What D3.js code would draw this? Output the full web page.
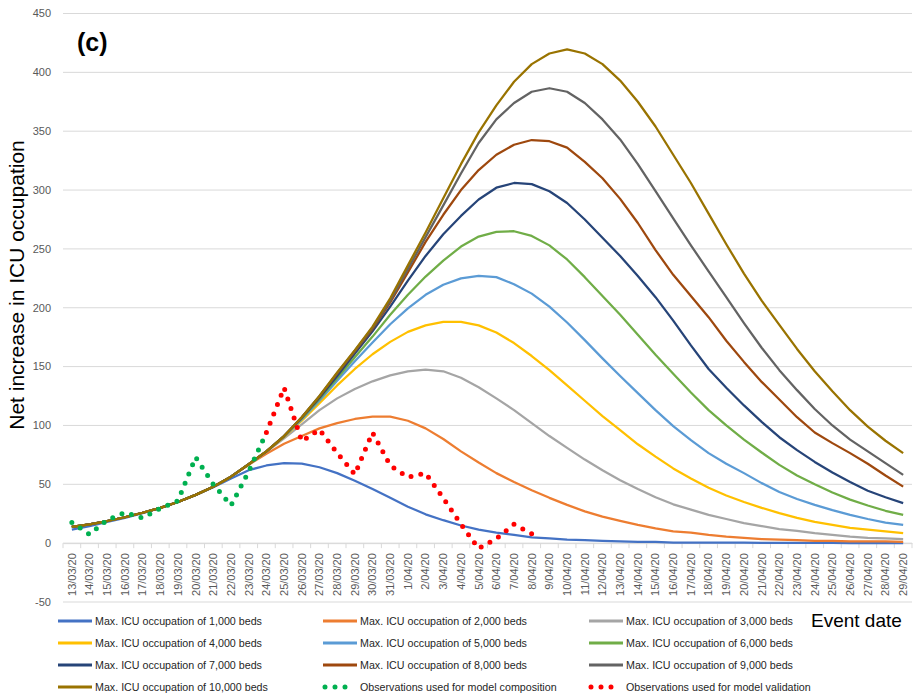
<!DOCTYPE html>
<html><head><meta charset="utf-8">
<script src="https://cdn.jsdelivr.net/npm/d3@7"></script>
<style>
html,body{margin:0;padding:0;background:#fff;}
svg{display:block;font-family:"Liberation Sans",Arial,sans-serif;}
</style></head>
<body><svg id="chart" width="916" height="696"></svg>
<script>
const dates = ["13/03/20","14/03/20","15/03/20","16/03/20","17/03/20","18/03/20","19/03/20","20/03/20","21/03/20","22/03/20","23/03/20","24/03/20","25/03/20","26/03/20","27/03/20","28/03/20","29/03/20","30/03/20","31/03/20","1/04/20","2/04/20","3/04/20","4/04/20","5/04/20","6/04/20","7/04/20","8/04/20","9/04/20","10/04/20","11/04/20","12/04/20","13/04/20","14/04/20","15/04/20","16/04/20","17/04/20","18/04/20","19/04/20","20/04/20","21/04/20","22/04/20","23/04/20","24/04/20","25/04/20","26/04/20","27/04/20","28/04/20","29/04/20"];
const yTicks = [-50,0,50,100,150,200,250,300,350,400,450];

const beds1000 = [11.5,14.5,18,21.5,25.5,30,35,41,47.5,55,62,66,68,67.5,64.5,59.5,53,46,38.5,31,24.5,19.5,15,11.5,9,7,5,4,3,2.5,2,1.5,1,1,0.5,0.5,0.5,0.5,0.5,0.3,0.3,0.2,0.2,0.2,0.1,0.1,0.1,0.1];
const beds2000 = [13.8,16,18.8,22,25.8,30,35,41,48,56.5,66.5,76,84.5,91,97.5,102,105.5,107.5,107.5,104,97.5,88.5,78,68.5,59.5,52,45,38.5,32.5,27,22.5,19,15.5,12.5,10,9,7,5.5,4.5,3.5,3,2.5,2,2,1.5,1.5,1.5,1];
const beds3000 = [13.8,16,18.8,22,25.8,30,35,41,48,56.5,67,77.5,89,101,113,123,131,137.5,142.5,146,147.5,146,140.5,132.5,123,113,102,91,81,71,62,53.5,46,39,33,28.5,24,20.5,17,14.5,12,10.5,8.5,7,5.5,4.5,4,3.5];
const beds4000 = [13.8,16,18.8,22,25.8,30,35,41,48,56.5,67,78,90,104,119,134,148,160.5,171,179.5,185,188,188,185,179,170,159,147,134,121,108,96,84,73.5,63.5,55,47,40.5,35,30,25.5,21.5,18,15.5,13,11.5,10,8.5];
const beds5000 = [13.8,16,18.8,22,25.8,30,35,41,48,56.5,67,78,90.5,105,121,138,154.5,170.5,186,199.5,211,219.5,225,227,226,220,212,201,187.5,172.5,157,142,127.5,113,99.5,87.5,76.5,67.5,59.5,51,43.5,37.5,32.5,28,24,20.5,17.5,15.5];
const beds6000 = [13.8,16,18.8,22,25.8,30,35,41,48,56.5,67,78,91,106,122.5,140,158,175.5,194,211,226.5,240,252,260.5,264.5,265,261,253,241,226,210,194,177,160,144,128,113,100,88,77,66.5,57.5,50,43,37,32,27.5,24];
const beds7000 = [13.8,16,18.8,22,25.8,30,35,41,48,56.5,67,78,91,106.5,123.5,142,161,180,201,223,244,262.5,278,292,302,306,305,299,289,275,259.5,244,227,209,189,168,148,132,117,103,90,79,69,60,52,44.5,39,34];
const beds8000 = [13.8,16,18.8,22,25.8,30,35,41,48,56.5,67,78,91,107,124.5,144,163,182,204.5,230,256,279,300,317,330,338.5,342.5,341.5,336,324,310,292.5,272,249,228,210,192,172,154,137,122,107,94,85,76.5,67.5,57.5,48];
const beds9000 = [13.8,16,18.8,22,25.8,30,35,41,48,56.5,67,78,91,107,125,144.5,163.5,183,206,233,260,287,314,340,360,374,383.5,386.5,383.5,374,360,343,322,299,276,253,231,209,187,166,147,130,114,100,88,78,68,58];
const beds10000 = [13.8,16,18.8,22,25.8,30,35,41,48,56.5,67,78,91,107,125,145,164,184,208,236,264,293,322,349,372,392,407,416,419.5,416,407,393,375,354,330,306,280,254,229,206,185.5,165,146,129,113,99,87,76.5];
const obsComposition = [17.5,7.5,19.7,26,21.3,29.5,36,73,50,32,61,94,null,null,null,null,null,null,null,null,null,null,null,null,null,null,null,null,null,null,null,null,null,null,null,null,null,null,null,null,null,null,null,null,null,null,null,null];
const obsValidation = [null,null,null,null,null,null,null,null,null,null,null,94,132,86.5,96.5,76.7,58.5,94,66,56,59.5,38.2,16,-4.5,3.9,16,8,null,null,null,null,null,null,null,null,null,null,null,null,null,null,null,null,null,null,null,null,null];

const series = [
  {name:"Max. ICU occupation of 1,000 beds", values:beds1000, color:"#4472C4"},
  {name:"Max. ICU occupation of 2,000 beds", values:beds2000, color:"#ED7D31"},
  {name:"Max. ICU occupation of 3,000 beds", values:beds3000, color:"#A5A5A5"},
  {name:"Max. ICU occupation of 4,000 beds", values:beds4000, color:"#FFC000"},
  {name:"Max. ICU occupation of 5,000 beds", values:beds5000, color:"#5B9BD5"},
  {name:"Max. ICU occupation of 6,000 beds", values:beds6000, color:"#70AD47"},
  {name:"Max. ICU occupation of 7,000 beds", values:beds7000, color:"#264478"},
  {name:"Max. ICU occupation of 8,000 beds", values:beds8000, color:"#9E480E"},
  {name:"Max. ICU occupation of 9,000 beds", values:beds9000, color:"#636363"},
  {name:"Max. ICU occupation of 10,000 beds", values:beds10000, color:"#997300"},
  {name:"Observations used for model composition", values:obsComposition, color:"#00B050", dotted:true},
  {name:"Observations used for model validation", values:obsValidation, color:"#FF0000", dotted:true}
];

const svg = d3.select("#chart");
const x = d3.scaleBand().domain(dates).range([63, 912]).padding(0);
const y = d3.scaleLinear().domain([-50, 450]).range([602, 13.5]);
const cx = d => x(d) + x.bandwidth()/2;

// gridlines
svg.append("g").selectAll("line").data(yTicks).join("line")
  .attr("x1", 63).attr("x2", 912)
  .attr("y1", d => y(d)).attr("y2", d => y(d))
  .attr("stroke", "#d9d9d9").attr("stroke-width", 1);

// y tick labels
svg.append("g").selectAll("text").data(yTicks).join("text")
  .attr("x", 51).attr("y", d => y(d)).attr("dy", "0.35em")
  .attr("text-anchor", "end").attr("font-size", 11).attr("fill", "#595959")
  .text(d => d);

// x axis at zero
const xAxis = d3.axisBottom(x).tickSize(0).tickFormat(d => d);
const gx = svg.append("g").attr("transform", `translate(0,${y(0)})`).call(xAxis);
gx.select(".domain").attr("stroke", "#d9d9d9");
gx.selectAll(".tick text")
  .attr("transform", "rotate(-90)")
  .attr("x", -10).attr("y", 0).attr("dy", "0.35em")
  .attr("text-anchor", "end").attr("font-size", 11).attr("fill", "#595959")
  .attr("font-family", "Liberation Sans, Arial, sans-serif");
// boundary tick marks
const bounds = dates.map(d => x(d)).concat([x(dates[dates.length-1]) + x.bandwidth()]);
svg.append("g").selectAll("line").data(bounds).join("line")
  .attr("x1", d => d).attr("x2", d => d)
  .attr("y1", y(0)).attr("y2", y(0) + 5)
  .attr("stroke", "#d9d9d9");

// lines
const line = d3.line()
  .defined(v => v !== null)
  .x((v, i) => cx(dates[i]))
  .y(v => y(v));

series.forEach(s => {
  const p = svg.append("path").datum(s.values)
    .attr("fill", "none").attr("stroke", s.color)
    .attr("d", line);
  if (s.dotted) {
    p.attr("stroke-width", 5).attr("stroke-linecap", "round").attr("stroke-dasharray", "0 10");
  } else {
    p.attr("stroke-width", 2.25).attr("stroke-linejoin", "round");
  }
});

// panel label
svg.append("text").attr("x", 77).attr("y", 51)
  .attr("font-size", 25).attr("font-weight", "bold").attr("fill", "#000")
  .attr("font-family", "Liberation Sans, Arial, sans-serif").text("(c)");

// y title
svg.append("text")
  .attr("transform", `translate(24,${285}) rotate(-90)`)
  .attr("text-anchor", "middle").attr("font-size", 21).attr("fill", "#000")
  .text("Net increase in ICU occupation");

// x title
svg.append("text").attr("x", 811).attr("y", 627)
  .attr("font-size", 19).attr("fill", "#000").text("Event date");

// legend
const colX = [58, 323, 589];
const rowY = [621, 643, 665, 687];
const lg = svg.append("g");
series.forEach((s, i) => {
  const r = Math.floor(i / 3), c = i % 3;
  const g = lg.append("g").attr("transform", `translate(${colX[c]},${rowY[r]})`);
  if (s.dotted) {
    g.append("line").attr("x1", 2).attr("x2", 32).attr("y1", 0).attr("y2", 0)
      .attr("stroke", s.color).attr("stroke-width", 5)
      .attr("stroke-linecap", "round").attr("stroke-dasharray", "0 10");
  } else {
    g.append("line").attr("x1", 0).attr("x2", 34).attr("y1", 0).attr("y2", 0)
      .attr("stroke", s.color).attr("stroke-width", 3);
  }
  g.append("text").attr("x", 37).attr("y", 0).attr("dy", "0.35em")
    .attr("font-size", 10.7).attr("fill", "#262626").text(s.name);
});
</script>
</body></html>
